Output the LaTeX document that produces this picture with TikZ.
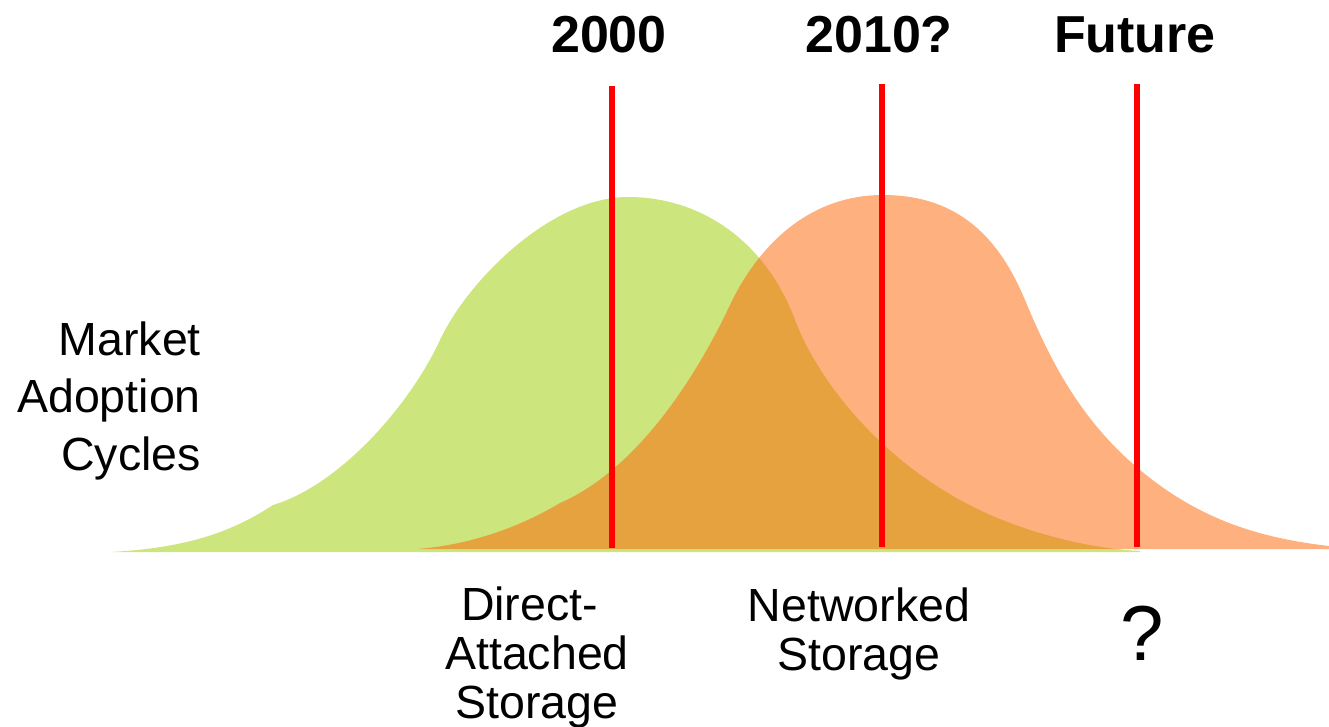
\documentclass[tikz,border=0pt]{standalone}
\usepackage{fontspec}
\setmainfont{Liberation Sans}
\definecolor{dasgreen}{RGB}{205,229,125}
\definecolor{nsorange}{RGB}{255,97,0}
\definecolor{markred}{RGB}{255,0,0}
\begin{document}
\begin{tikzpicture}[x=1pt,y=-1pt,
  yearlab/.style={font=\bfseries\fontsize{52}{60}\selectfont, inner sep=0pt, anchor=base},
  sidelab/.style={font=\fontsize{46.5}{57.5}\selectfont, inner sep=0pt, align=right, anchor=base east},
  techlab/.style={font=\fontsize{46.5}{49}\selectfont, inner sep=0pt, align=center, anchor=base},
  marker/.style={draw=markred, line width=6.5pt}]
\useasboundingbox (0,0) rectangle (1329,727);
% Direct-attached storage adoption curve
\fill[dasgreen] (110,552)
  .. controls (190,548) and (235,530) .. (273,505)
  .. controls (340,485) and (410,405) .. (440,340)
  .. controls (467,282) and (550,197) .. (628,197)
  .. controls (700,197) and (765,240) .. (795,320)
  .. controls (815,373) and (870,450) .. (960,500)
  .. controls (1010,528) and (1080,548) .. (1140,551)
  -- (1140,552) -- cycle;
% Networked storage adoption curve
\fill[nsorange, fill opacity=0.5] (417,549)
  .. controls (470,545) and (520,527) .. (560,503)
  .. controls (625,475) and (685,400) .. (730,305)
  .. controls (752,258) and (800,195) .. (883,195)
  .. controls (960,195) and (1000,240) .. (1025,300)
  .. controls (1050,360) and (1080,420) .. (1140,470)
  .. controls (1200,520) and (1260,538) .. (1329,546)
  -- (1329,549) -- cycle;
% time markers
\coordinate (m1t) at (612,86);  \coordinate (m1b) at (612,548);
\coordinate (m2t) at (882,84);  \coordinate (m2b) at (882,547);
\coordinate (m3t) at (1137,84); \coordinate (m3b) at (1137,547);
\draw[marker] (m1t) -- (m1b);
\draw[marker] (m2t) -- (m2b);
\draw[marker] (m3t) -- (m3b);
% labels
\node[yearlab] (y2000) at (609,53) {2000};
\node[yearlab] (y2010) at (879,53) {2010?};
\node[yearlab] (yfut) at (1135,53) {Future};
\node[sidelab] (mac) at (201,470) {Market\\Adoption\\Cycles};
\node[techlab] (das) at (537,718) {Direct-\kern15pt\\Attached\\Storage};
\node[techlab] (ns) at (859,670) {Networked\\Storage};
\node[font=\fontsize{78}{80}\selectfont, inner sep=0pt, anchor=base] (q) at (1142,660) {?};
\end{tikzpicture}
\end{document}
